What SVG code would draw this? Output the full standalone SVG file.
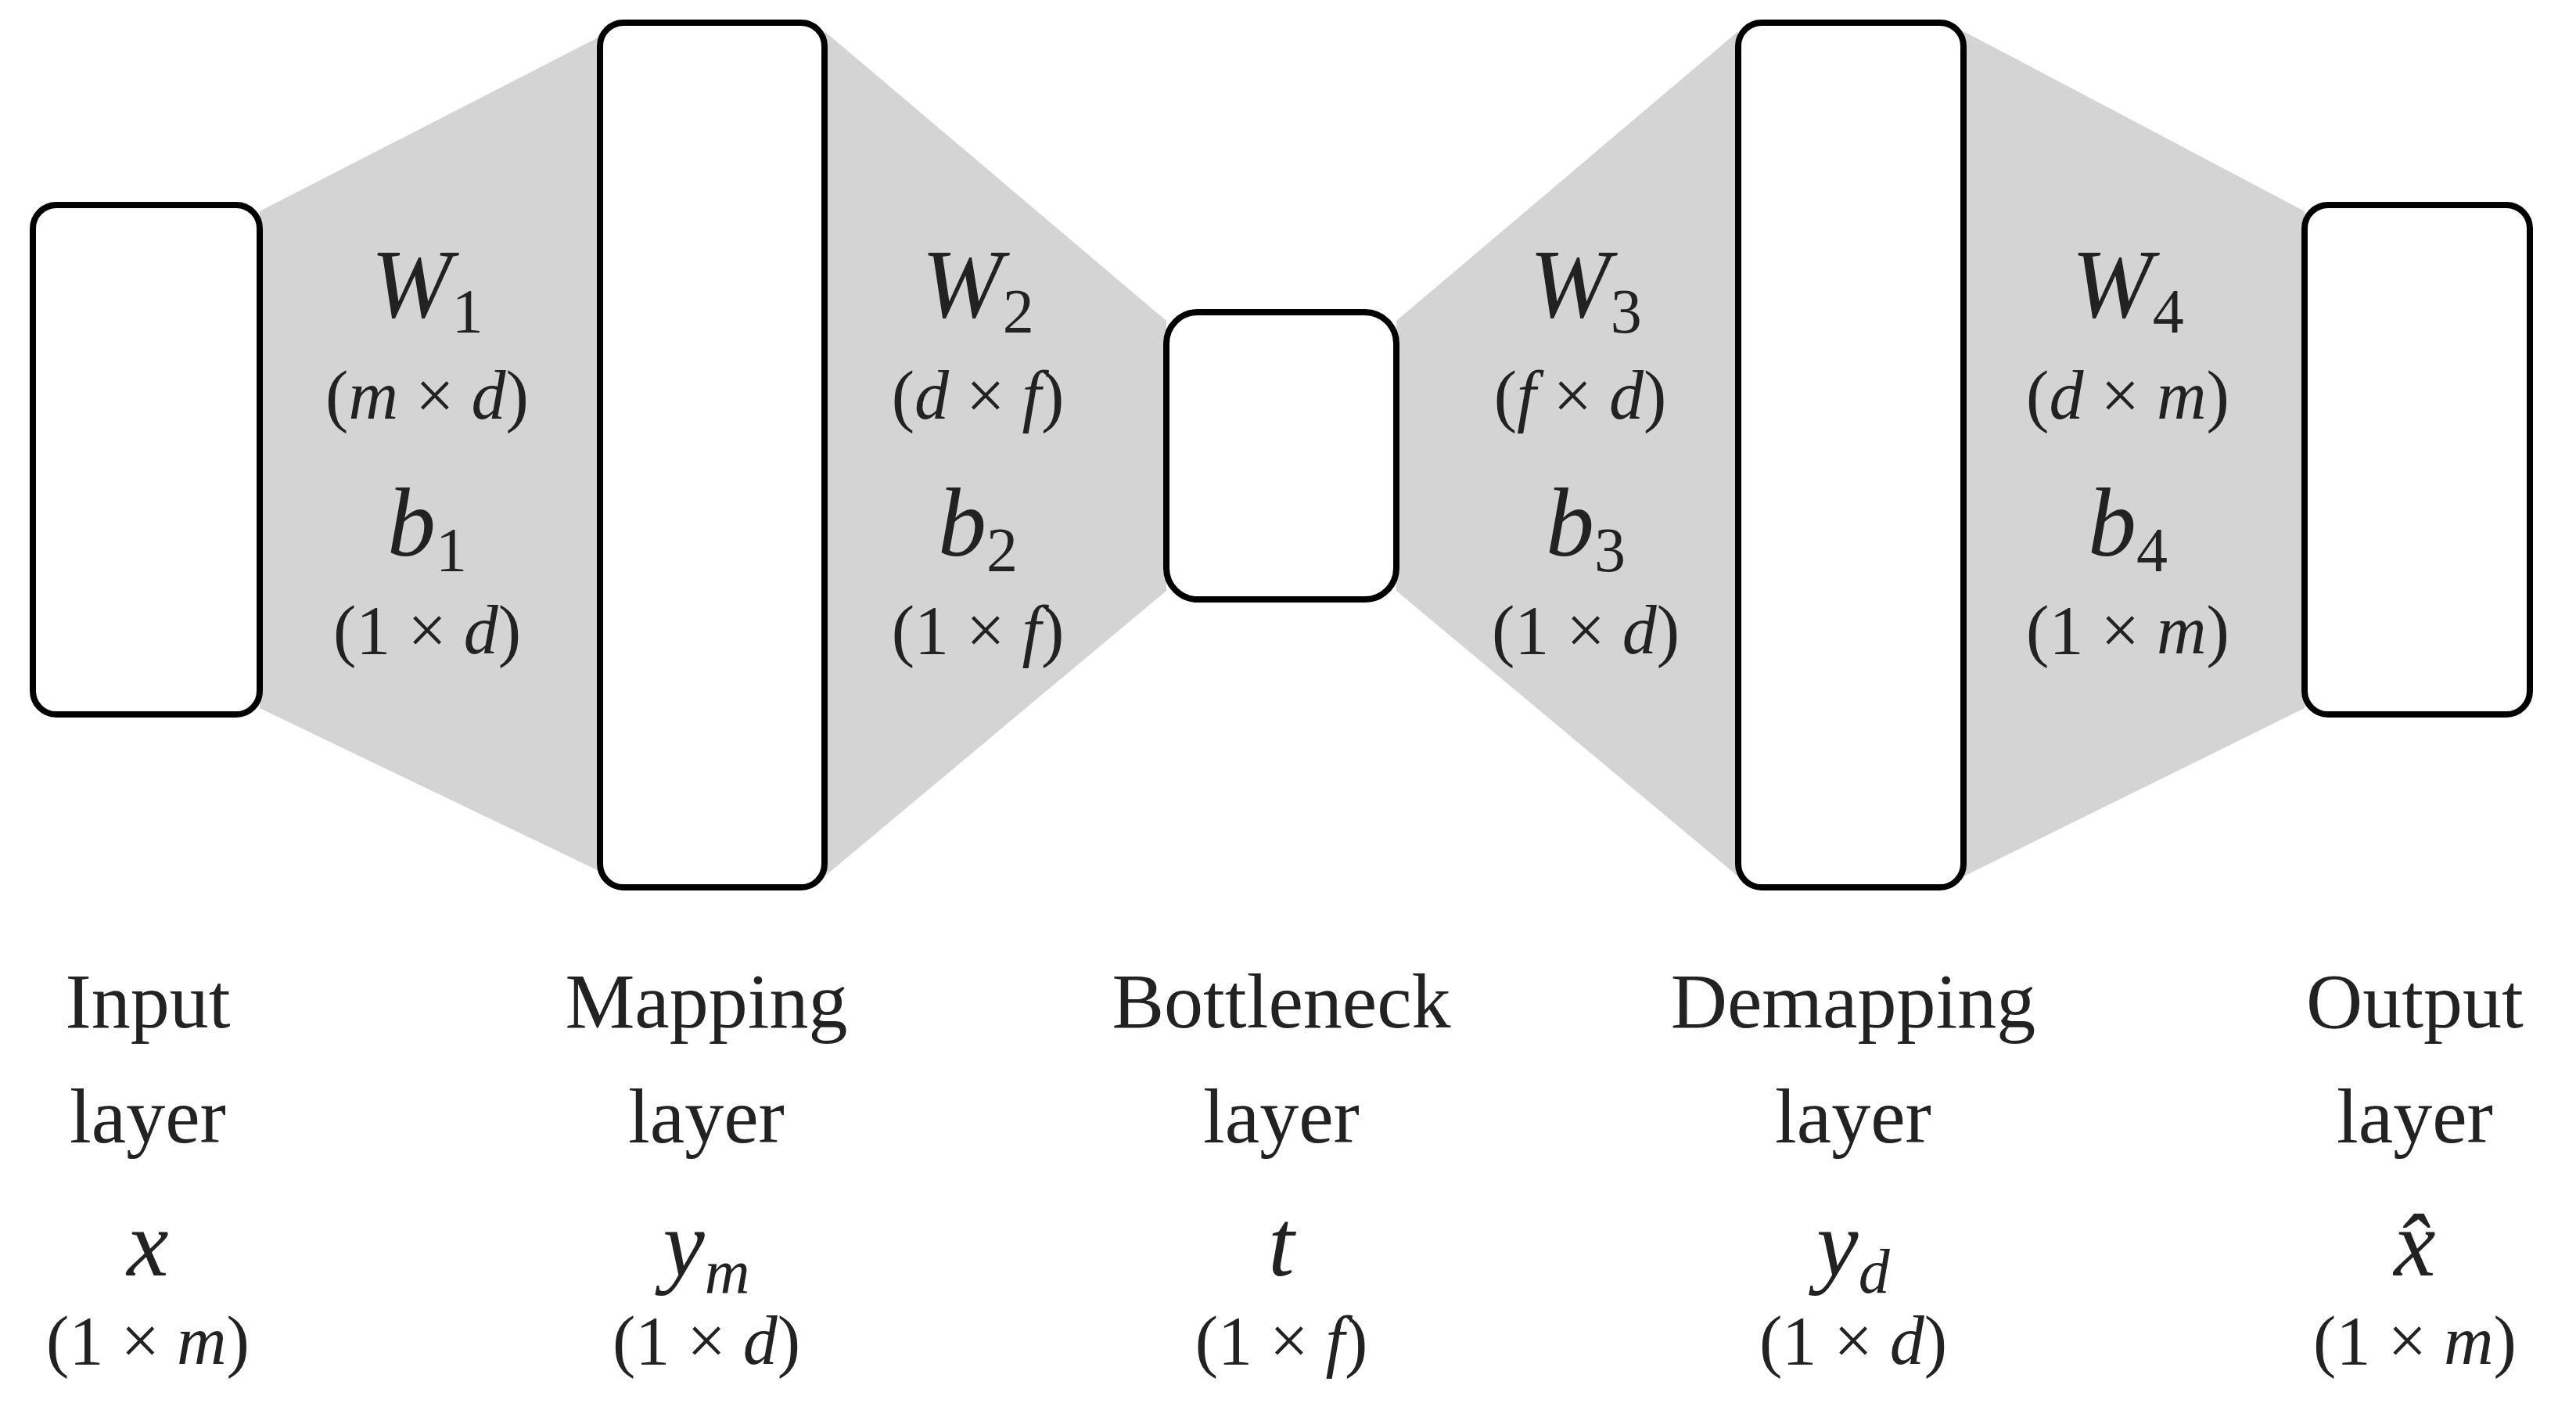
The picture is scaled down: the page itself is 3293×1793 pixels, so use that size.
<svg xmlns="http://www.w3.org/2000/svg" width="3293" height="1793" viewBox="0 0 3293 1793">
<style>
.box{fill:#fff;stroke:#000;stroke-width:8}
.fan{fill:#d4d4d4}
text{font-family:"Liberation Serif",serif;text-anchor:middle;fill:#222}
.w{font-size:124px;font-style:italic}
.d{font-size:88px}
.l{font-size:100px}
.v{font-size:120px;font-style:italic}
.i{font-style:italic}
.s{font-size:80px;font-style:normal}
.si{font-size:80px;font-style:italic}
</style>
<rect width="3293" height="1793" fill="#fff"/>
<g id="connectors">
<polygon class="fan" points="332,270 780,40 780,1120 332,905"/>
<polygon class="fan" points="1054,40 1491,410 1491,755 1054,1120"/>
<polygon class="fan" points="1785,410 2222,40 2222,1120 1785,755"/>
<polygon class="fan" points="2510,40 2946,270 2946,905 2510,1120"/>
</g>
<g id="input"><rect class="box" x="42" y="262" width="290" height="651" rx="30"/>
<text class="l" x="189" y="1313">Input</text><text class="l" x="189" y="1460">layer</text>
<text class="v" x="189" y="1630">x</text><text class="d" x="189" y="1743">(1 × <tspan class="i">m</tspan>)</text></g>
<g id="mapping"><rect class="box" x="767" y="29" width="287" height="1105" rx="30"/>
<text class="l" x="903" y="1313">Mapping</text><text class="l" x="903" y="1460">layer</text>
<text class="v" x="903" y="1630">y<tspan class="si" dy="22">m</tspan></text><text class="d" x="903" y="1743">(1 × <tspan class="i">d</tspan>)</text></g>
<g id="bottleneck"><rect class="box" x="1491" y="399" width="294" height="367" rx="40"/>
<text class="l" x="1638" y="1313">Bottleneck</text><text class="l" x="1638" y="1460">layer</text>
<text class="v" x="1638" y="1630">t</text><text class="d" x="1638" y="1743">(1 × <tspan class="i">f</tspan>)</text></g>
<g id="demapping"><rect class="box" x="2222" y="29" width="288" height="1105" rx="30"/>
<text class="l" x="2369" y="1313">Demapping</text><text class="l" x="2369" y="1460">layer</text>
<text class="v" x="2369" y="1630">y<tspan class="si" dy="22">d</tspan></text><text class="d" x="2369" y="1743">(1 × <tspan class="i">d</tspan>)</text></g>
<g id="output"><rect class="box" x="2946" y="262" width="288" height="651" rx="30"/>
<text class="l" x="3087" y="1313">Output</text><text class="l" x="3087" y="1460">layer</text>
<text class="v" x="3087" y="1630">x̂</text><text class="d" x="3087" y="1743">(1 × <tspan class="i">m</tspan>)</text></g>
<g id="weights">
<text class="w" x="546" y="405">W<tspan class="s" dy="20">1</tspan></text>
<text class="d" x="546" y="535">(<tspan class="i">m</tspan> × <tspan class="i">d</tspan>)</text>
<text class="w" x="546" y="710">b<tspan class="s" dy="20">1</tspan></text>
<text class="d" x="546" y="835">(1 × <tspan class="i">d</tspan>)</text>
<text class="w" x="1250" y="405">W<tspan class="s" dy="20">2</tspan></text>
<text class="d" x="1250" y="535">(<tspan class="i">d</tspan> × <tspan class="i">f</tspan>)</text>
<text class="w" x="1250" y="710">b<tspan class="s" dy="20">2</tspan></text>
<text class="d" x="1250" y="835">(1 × <tspan class="i">f</tspan>)</text>
<text class="w" x="2027" y="405">W<tspan class="s" dy="20">3</tspan></text>
<text class="d" x="2020" y="535">(<tspan class="i">f</tspan> × <tspan class="i">d</tspan>)</text>
<text class="w" x="2027" y="710">b<tspan class="s" dy="20">3</tspan></text>
<text class="d" x="2027" y="835">(1 × <tspan class="i">d</tspan>)</text>
<text class="w" x="2720" y="405">W<tspan class="s" dy="20">4</tspan></text>
<text class="d" x="2720" y="535">(<tspan class="i">d</tspan> × <tspan class="i">m</tspan>)</text>
<text class="w" x="2720" y="710">b<tspan class="s" dy="20">4</tspan></text>
<text class="d" x="2720" y="835">(1 × <tspan class="i">m</tspan>)</text>
</g>
</svg>
